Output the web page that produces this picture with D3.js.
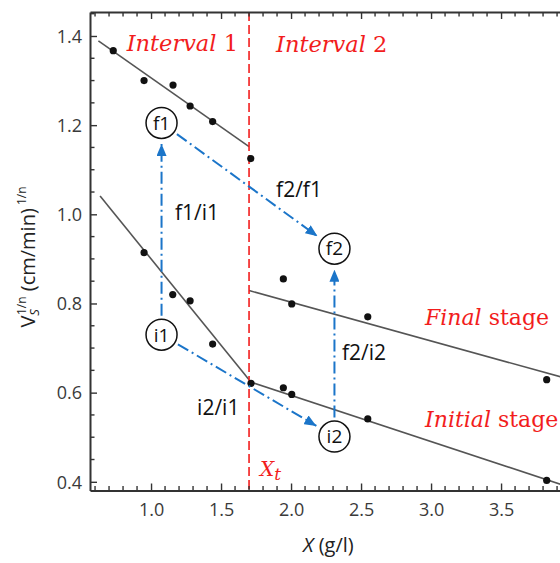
<!DOCTYPE html>
<html>
<head>
<meta charset="utf-8">
<script src="https://cdn.jsdelivr.net/npm/d3@7"></script>
<style>
  body { margin: 0; background: #fff; }
  svg { display: block; font-family: "Open Sans", sans-serif; }
</style>
</head>
<body>
<div id="chart"></div>
<script>
// measured points, X (g/l) vs Vs^(1/n)
const finalX1 = [0.73, 0.95, 1.157, 1.279, 1.44, 1.712];
const finalY1 = [1.367, 1.300, 1.290, 1.243, 1.208, 1.125];
const initX1 = [0.95, 1.155, 1.279, 1.44, 1.714];
const initY1 = [0.914, 0.820, 0.806, 0.709, 0.621];
const finalX2 = [1.945, 2.005, 2.548, 3.826];
const finalY2 = [0.855, 0.799, 0.770, 0.629];
const initX2 = [1.945, 2.005, 2.548, 3.826];
const initY2 = [0.611, 0.596, 0.541, 0.403];

// fitted lines, [x, y] endpoints
const fitLines = [
  [[0.624, 1.389], [1.7, 1.152]],
  [[0.636, 1.041], [1.7, 0.629]],
  [[1.7, 0.829], [3.93, 0.635]],
  [[1.7, 0.625], [3.93, 0.394]]
];

const xTransition = 1.7;

// circled markers and ratio arrows
const nodeNames = ['f1', 'i1', 'f2', 'i2'];
const nodeX = [1.075, 1.075, 2.31, 2.31];
const nodeY = [1.205, 0.730, 0.923, 0.5015];
const arrowFrom = ['i1', 'f1', 'i1', 'i2'];
const arrowTo = ['f1', 'f2', 'i2', 'f2'];
const arrowLabels = ['f1/i1', 'f2/f1', 'i2/i1', 'f2/i2'];
const arrowLabelX = [1.171, 1.893, 1.329, 2.364];
const arrowLabelY = [0.988, 1.039, 0.549, 0.674];

const xTicks = [1.0, 1.5, 2.0, 2.5, 3.0, 3.5];
const yTicks = [0.4, 0.6, 0.8, 1.0, 1.2, 1.4];

const width = 560, height = 563;
const margin = {top: 12, right: 0, bottom: 72, left: 90};

const svg = d3.select('#chart').append('svg')
    .attr('width', width)
    .attr('height', height);

const x = d3.scaleLinear().domain([0.564, 3.921]).range([margin.left, width - margin.right]);
const y = d3.scaleLinear().domain([0.3805, 1.4538]).range([height - margin.bottom - 0.5, margin.top]);

const red = '#f21d1d';
const blue = '#1b75c9';
const axisCol = '#333';

const defs = svg.append('defs');
defs.append('clipPath').attr('id', 'clip')
  .append('rect')
    .attr('x', margin.left).attr('y', margin.top)
    .attr('width', width - margin.left - margin.right)
    .attr('height', y(0.3805) - margin.top);

defs.append('marker')
    .attr('id', 'arrow')
    .attr('markerUnits', 'userSpaceOnUse')
    .attr('viewBox', '0 0 12 10')
    .attr('refX', 12).attr('refY', 5)
    .attr('markerWidth', 12).attr('markerHeight', 10)
    .attr('orient', 'auto')
  .append('path')
    .attr('d', 'M0,0 L12,5 L0,10 Z')
    .attr('fill', blue);

const plot = svg.append('g').attr('clip-path', 'url(#clip)');

// fit lines
plot.selectAll('.fit')
  .data(fitLines)
  .join('line')
    .attr('class', 'fit')
    .attr('x1', d => x(d[0][0])).attr('y1', d => y(d[0][1]))
    .attr('x2', d => x(d[1][0])).attr('y2', d => y(d[1][1]))
    .attr('stroke', '#555')
    .attr('stroke-width', 1.6);

// transition line
plot.append('line')
    .attr('x1', x(xTransition)).attr('x2', x(xTransition))
    .attr('y1', margin.top).attr('y2', y(0.3805))
    .attr('stroke', red)
    .attr('stroke-width', 1.6)
    .attr('stroke-dasharray', '9,4');

// data points
const points = [];
[[finalX1, finalY1], [initX1, initY1], [finalX2, finalY2], [initX2, initY2]].forEach(([xs, ys]) => {
  xs.forEach((v, i) => points.push([v, ys[i]]));
});
plot.selectAll('.pt')
  .data(points)
  .join('circle')
    .attr('class', 'pt')
    .attr('cx', d => x(d[0])).attr('cy', d => y(d[1]))
    .attr('r', 3.6)
    .attr('fill', '#111');

// axes
const xMinor = d3.range(6, 40).map(v => v / 10).filter(v => Math.abs(v * 2 - Math.round(v * 2)) > 1e-6);
const yMinor = d3.range(8, 30).map(v => v / 20).filter(v => Math.abs(v * 5 - Math.round(v * 5)) > 1e-6);

const gx = svg.append('g')
    .attr('transform', `translate(0,${y(0.3805)})`)
    .call(d3.axisBottom(x).tickValues(xTicks).tickFormat(d3.format('.1f')).tickSizeInner(-7).tickSizeOuter(0).tickPadding(13));
gx.selectAll('.minor').data(xMinor).enter().append('line')
    .attr('class', 'minor')
    .attr('x1', d => x(d)).attr('x2', d => x(d))
    .attr('y1', 0).attr('y2', -4.5);

const gxTop = svg.append('g')
    .attr('transform', `translate(0,${margin.top})`)
    .call(d3.axisTop(x).tickValues(xTicks).tickFormat('').tickSizeInner(-7).tickSizeOuter(0));
gxTop.selectAll('.minor').data(xMinor).enter().append('line')
    .attr('class', 'minor')
    .attr('x1', d => x(d)).attr('x2', d => x(d))
    .attr('y1', 0).attr('y2', 4.5);

const gy = svg.append('g')
    .attr('transform', `translate(${margin.left},0)`)
    .call(d3.axisLeft(y).tickValues(yTicks).tickFormat(d3.format('.1f')).tickSizeInner(-7).tickSizeOuter(0).tickPadding(8));
gy.selectAll('.minor').data(yMinor).enter().append('line')
    .attr('class', 'minor')
    .attr('y1', d => y(d)).attr('y2', d => y(d))
    .attr('x1', 0).attr('x2', 4.5);

[gx, gxTop, gy].forEach(g => {
  g.select('.domain').attr('stroke', axisCol).attr('stroke-width', 2);
  g.selectAll('line').attr('stroke', axisCol).attr('stroke-width', 1.4);
  g.selectAll('text')
      .attr('fill', '#3a3a3a')
      .style('font-family', '"Open Sans", sans-serif')
      .style('font-size', '18px');
});
gy.selectAll('text').attr('dy', '0.35em');

// axis titles
const xt = svg.append('text')
    .attr('x', 303).attr('y', 552)
    .attr('fill', '#222')
    .style('font-size', '20px');
xt.append('tspan').style('font-style', 'italic').text('X');
xt.append('tspan').text(' (g/l)');

const yt = svg.append('text')
    .attr('transform', 'translate(35,257) rotate(-90)')
    .attr('text-anchor', 'middle')
    .attr('fill', '#222')
    .style('font-size', '20px');
yt.append('tspan').text('V');
yt.append('tspan').attr('dy', 4).style('font-size', '13px').style('font-style', 'italic').text('S');
yt.append('tspan').attr('dx', -6).attr('dy', -13).style('font-size', '12px').text('1/n');
yt.append('tspan').attr('dy', 9).text(' (cm/min)');
yt.append('tspan').attr('dy', -9).style('font-size', '12px').text(' 1/n');

// red annotations
const serif = '"DejaVu Serif", serif';
function redLabel(px, py, parts, size) {
  const t = svg.append('text')
      .attr('x', x(px)).attr('y', y(py))
      .attr('fill', red)
      .style('font-family', serif)
      .style('font-size', size + 'px');
  parts.forEach(p => t.append('tspan').style('font-style', p[1] ? 'italic' : 'normal').text(p[0]));
  return t;
}
redLabel(0.826, 1.367, [['Interval ', true], ['1', false]], 22.5);
redLabel(1.893, 1.365, [['Interval ', true], ['2', false]], 22.5);
redLabel(2.957, 0.7525, [['Final', true], [' stage', false]], 22);
redLabel(2.957, 0.522, [['Initial', true], [' stage', false]], 22);
const xtLabel = redLabel(1.779, 0.412, [['X', true]], 20);
xtLabel.append('tspan').attr('dy', 4).style('font-style', 'italic').style('font-size', '17px').text('t');

// ratio arrows
const node = name => {
  const i = nodeNames.indexOf(name);
  return [x(nodeX[i]), y(nodeY[i])];
};
const shrink = 19;
arrowFrom.forEach((from, i) => {
  const a = node(from), b = node(arrowTo[i]);
  const dx = b[0] - a[0], dy = b[1] - a[1];
  const len = Math.hypot(dx, dy);
  const ux = dx / len, uy = dy / len;
  svg.append('line')
      .attr('x1', a[0] + ux * shrink).attr('y1', a[1] + uy * shrink)
      .attr('x2', b[0] - ux * (shrink + 2)).attr('y2', b[1] - uy * (shrink + 2))
      .attr('stroke', blue)
      .attr('stroke-width', 2)
      .attr('stroke-dasharray', '12,4,2,4')
      .attr('marker-end', 'url(#arrow)');
});

svg.selectAll('.ratio')
  .data(arrowLabels)
  .join('text')
    .attr('class', 'ratio')
    .attr('x', (d, i) => x(arrowLabelX[i]))
    .attr('y', (d, i) => y(arrowLabelY[i]))
    .attr('fill', '#111')
    .style('font-size', '21px')
    .text(d => d);

// circled nodes
const nodes = svg.selectAll('.node')
  .data(nodeNames)
  .join('g')
    .attr('class', 'node')
    .attr('transform', (d, i) => `translate(${x(nodeX[i])},${y(nodeY[i])})`);
nodes.append('circle')
    .attr('r', 15.5)
    .attr('fill', '#fff')
    .attr('stroke', '#111')
    .attr('stroke-width', 1.5);
nodes.append('text')
    .attr('text-anchor', 'middle')
    .attr('dy', '0.36em')
    .attr('fill', '#111')
    .style('font-size', '19px')
    .text(d => d);
</script>
</body>
</html>
